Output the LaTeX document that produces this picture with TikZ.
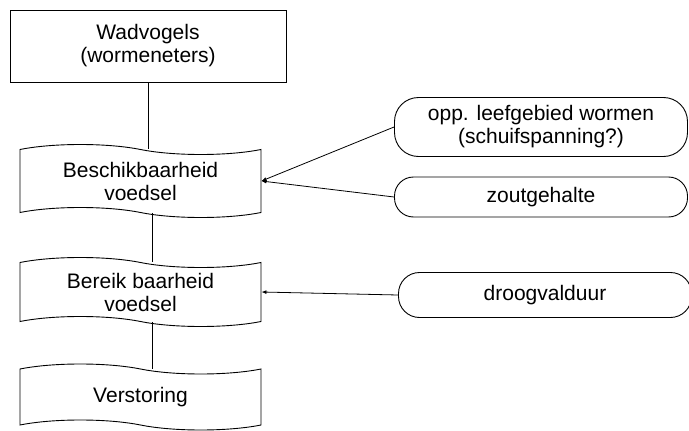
\documentclass[tikz,border=0pt]{standalone}
\usepackage{fontspec}
\setmainfont{Liberation Sans}
\usetikzlibrary{shapes.symbols,arrows.meta}
\tikzset{
  doos/.style={draw, minimum width=276pt, minimum height=72pt, align=center, line width=0.9pt},
  band/.style={draw, tape, tape bend top=out and in, tape bend bottom=out and in, tape bend height=10pt,
    minimum width=241pt, align=center, line width=0.9pt},
  factor/.style={draw, rounded corners=24pt, minimum width=293pt, align=center, line width=0.9pt},
  invloed/.style={-{Latex[length=5pt,width=4pt]}, line width=0.8pt}
}
\begin{document}
\begin{tikzpicture}[x=1pt, y=-1pt, font=\fontsize{21}{23}\selectfont]
  \useasboundingbox (0,0) rectangle (689,431);
  \node[doos] (wad) at (148,46) {Wadvogels\\(wormeneters)};
  \node[band, minimum height=73pt] (besch) at (140.5,181) {Beschikbaarheid\\voedsel};
  \node[band, minimum height=69pt] (bereik) at (140.5,292) {Bereik baarheid\\voedsel};
  \node[band, minimum height=66pt] (verst) at (140.5,397) {Verstoring};

  \node[factor, minimum height=59pt] (opp) at (541,127) {opp. leefgebied wormen\\(schuifspanning?)};
  \node[factor, minimum height=40pt, rounded corners=19pt] (zout) at (541,197) {zoutgehalte};
  \node[factor, minimum height=45pt, rounded corners=21pt] (droog) at (545,295) {droogvalduur};

  \draw[line width=0.9pt] (wad.south) -- (besch.north -| wad.south);
  \draw[line width=0.9pt] ([xshift=12pt]besch.south) -- ([xshift=12pt]bereik.north);
  \draw[line width=0.9pt] ([xshift=12pt]bereik.south) -- ([xshift=12pt]verst.north);

  \draw[invloed] (opp.west) -- (besch.east);
  \draw[invloed] (zout.west) -- (besch.east);
  \draw[invloed] (droog.west) -- (bereik.east);
\end{tikzpicture}
\end{document}
